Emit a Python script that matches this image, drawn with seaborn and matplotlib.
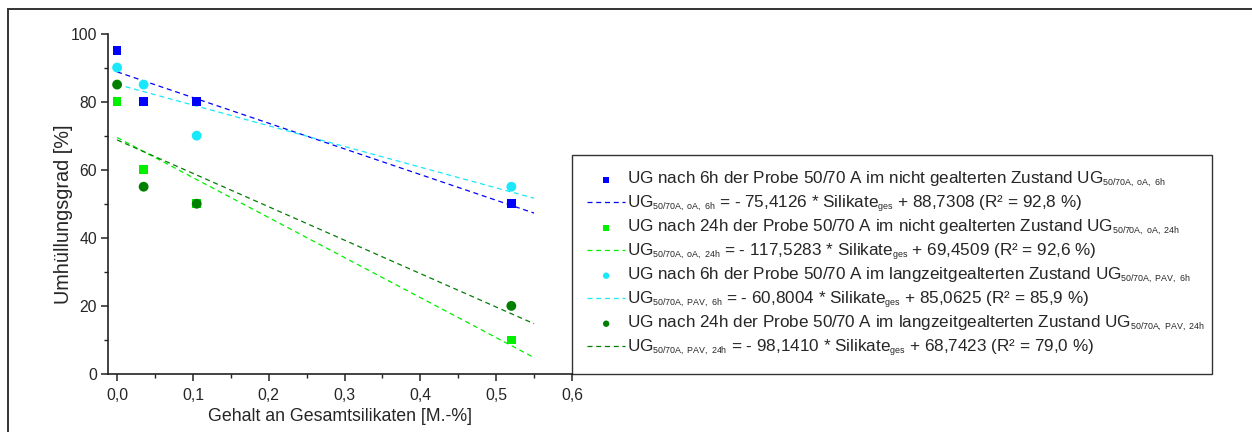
import numpy as np
import pandas as pd
import matplotlib
matplotlib.use("Agg")
import matplotlib.pyplot as plt
from matplotlib.patches import Rectangle
from matplotlib.ticker import MultipleLocator, FuncFormatter
import seaborn as sns

try:
    # smaller sub-/superscripts in the labels
    import matplotlib._mathtext as _mt
    _mt.SHRINK_FACTOR = 0.52
except Exception:
    pass

# Total silicate content of the samples [M.-%]
silikate = [0.0, 0.035, 0.105, 0.52]

# Coating degree [%] per series
ug_oa_6h = [95, 80, 80, 50]
ug_oa_24h = [80, 60, 50, 10]
ug_pav_6h = [90, 85, 70, 55]
ug_pav_24h = [85, 55, 50, 20]

# Linear regression results per series
steigungen = [-75.4126, -117.5283, -60.8004, -98.1410]
achsenabschnitte = [88.7308, 69.4509, 85.0625, 68.7423]
bestimmtheit = [92.8, 92.6, 85.9, 79.0]
fit_bereich = [0.0, 0.55]

serien_keys = ["oA, 6h", "oA, 24h", "PAV, 6h", "PAV, 24h"]
serien_texte = [
    "UG nach 6h der Probe 50/70 A im nicht gealterten Zustand",
    "UG nach 24h der Probe 50/70 A im nicht gealterten Zustand",
    "UG nach 6h der Probe 50/70 A im langzeitgealterten Zustand",
    "UG nach 24h der Probe 50/70 A im langzeitgealterten Zustand",
]
farben = ["#0000FF", "#00F000", "#18E8FA", "#007F00"]
marker = ["s", "s", "o", "o"]
werte = [ug_oa_6h, ug_oa_24h, ug_pav_6h, ug_pav_24h]

sns.set_style("ticks")
plt.rcParams["font.family"] = ["Liberation Sans", "DejaVu Sans"]
plt.rcParams["mathtext.fontset"] = "custom"
plt.rcParams["mathtext.rm"] = "Liberation Sans"
plt.rcParams["mathtext.it"] = "Liberation Sans"
plt.rcParams["mathtext.bf"] = "Liberation Sans"

W, H = 1252, 432
fig = plt.figure(figsize=(W / 100, H / 100), dpi=100)
fig.patch.set_facecolor("white")
ax = fig.add_axes([108 / W, 58 / H, (572 - 108) / W, (374 - 33.5) / H])
ax.set_facecolor("white")


def de(v, nd):
    return f"{v:.{nd}f}".replace(".", ",")


def sub(key):
    return r"$_{\mathrm{50/70A,\ " + key.replace(" ", r"\ ") + r"}}$"


rows = []
for key, vals in zip(serien_keys, werte):
    for x, y in zip(silikate, vals):
        rows.append({"serie": key, "x": x, "y": y})
df = pd.DataFrame(rows)

handles, labels = [], []
for i, key in enumerate(serien_keys):
    m, b = steigungen[i], achsenabschnitte[i]
    xs = np.array(fit_bereich)
    fit_df = pd.DataFrame({"x": xs, "y": m * xs + b})
    sns.lineplot(data=fit_df, x="x", y="y", ax=ax, color=farben[i], lw=0.9,
                 linestyle=(0, (4, 3)), zorder=2)
    line = ax.lines[-1]
    sns.scatterplot(data=df[df["serie"] == key], x="x", y="y", ax=ax,
                    marker=marker[i], color=farben[i],
                    s=40 if marker[i] == "s" else 50, edgecolor="none",
                    zorder=3 + i)
    pts = ax.collections[-1]
    handles += [pts, line]
    labels += [
        serien_texte[i] + " UG" + sub(key),
        "UG" + sub(key) + f" = - {de(abs(m), 4)} * Silikate" + r"$_{\mathrm{ges}}$"
        + f" + {de(b, 4)} (R² = {de(bestimmtheit[i], 1)} %)",
    ]

ax.set_xlim(-0.012, 0.6)
ax.set_ylim(0, 100)
ax.xaxis.set_major_locator(MultipleLocator(0.1))
ax.xaxis.set_minor_locator(MultipleLocator(0.05))
ax.yaxis.set_major_locator(MultipleLocator(20))
ax.yaxis.set_minor_locator(MultipleLocator(10))
ax.xaxis.set_major_formatter(FuncFormatter(lambda v, p: de(v, 1)))
ax.yaxis.set_major_formatter(FuncFormatter(lambda v, p: f"{v:.0f}"))
for s in ["top", "right"]:
    ax.spines[s].set_visible(False)
for s in ["left", "bottom"]:
    ax.spines[s].set_color("#222222")
    ax.spines[s].set_linewidth(1.2)
ax.tick_params(which="major", direction="out", length=5, width=1.1,
               color="#222222", labelsize=11.3, pad=3, bottom=True, left=True)
ax.tick_params(axis="x", which="major", pad=5)
ax.tick_params(which="minor", direction="out", length=3, width=1.0,
               color="#222222", bottom=True, left=True)
ax.set_xlabel("Gehalt an Gesamtsilikaten [M.-%]", fontsize=12.8)
ax.set_ylabel("Umhüllungsgrad [%]", fontsize=14.3)
ax.xaxis.set_label_coords(0.5, -0.1)
ax.yaxis.set_label_coords(-0.075, 0.47)

leg = fig.legend(handles, labels, loc="lower left",
                 bbox_to_anchor=(572 / W, 58 / H, (1212 - 572) / W, 0.5),
                 mode="expand", borderaxespad=0, fontsize=12.3,
                 frameon=True, fancybox=False, edgecolor="black",
                 handlelength=2.2, handletextpad=0.12, borderpad=0.9,
                 labelspacing=0.2, markerscale=0.65)
leg.get_frame().set_linewidth(1.0)

# Outer frame around the figure
fig.patches.append(Rectangle((7.5 / W, -0.1), 1.2, 1.1 - 9.5 / H,
                             transform=fig.transFigure, fill=False,
                             edgecolor="#333333", lw=1.4, zorder=0))

fig.savefig("out.png", dpi=100, facecolor="white")
